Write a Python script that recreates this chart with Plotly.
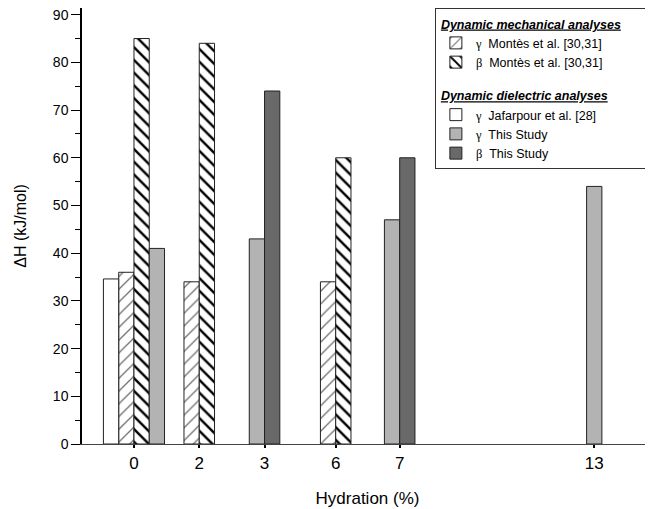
import plotly.graph_objects as go

# ---- data ----
hydration_labels = ["0", "2", "3", "6", "7", "13"]
jafarpour_gamma = [34.6, None, None, None, None, None]
montes_gamma = [36, 34, None, 34, None, None]
montes_beta = [85, 84, None, 60, None, None]
study_gamma = [41, None, 43, None, 47, 54]
study_beta = [None, None, 74, None, 60, None]

# ---- layout positions of categories on the x axis ----
cat_pos = [0, 1, 2, 3.09, 4.07, 7.05]
bar_w = 0.234

series_order = ["jg", "mg", "mb", "sg", "sb"]
series_vals = {
    "jg": jafarpour_gamma,
    "mg": montes_gamma,
    "mb": montes_beta,
    "sg": study_gamma,
    "sb": study_beta,
}

# compute centred offsets for present bars in each category
xs = {k: [] for k in series_order}
ys = {k: [] for k in series_order}
for ci, p in enumerate(cat_pos):
    present = [k for k in series_order if series_vals[k][ci] is not None]
    n = len(present)
    for i, k in enumerate(present):
        xs[k].append(p + (i - (n - 1) / 2) * bar_w)
        ys[k].append(series_vals[k][ci])

serif = "font-family:'Liberation Serif','DejaVu Serif',serif"
line = dict(color="#222222", width=1)
pad = "\u2003" * 3

fig = go.Figure()

fig.add_trace(go.Bar(
    x=xs["mg"], y=ys["mg"], width=bar_w,
    name=f"<span style=\"{serif}\">γ</span>  Montès et al. [30,31]",
    legendgroup="mech",
    legendgrouptitle=dict(text="<b><i><u>Dynamic mechanical analyses</u></i></b>" + pad,
                          font=dict(size=12.5, color="black")),
    marker=dict(color="white", line=line,
                pattern=dict(shape="/", fgcolor="#6e6e6e", bgcolor="white", fgopacity=1,
                             size=9, solidity=0.14, fillmode="overlay")),
))
fig.add_trace(go.Bar(
    x=xs["mb"], y=ys["mb"], width=bar_w,
    name=f"<span style=\"{serif}\">β</span>  Montès et al. [30,31]",
    legendgroup="mech",
    marker=dict(color="white", line=line,
                pattern=dict(shape="\\", fgcolor="black", bgcolor="white", fgopacity=1,
                             size=9, solidity=0.27, fillmode="overlay")),
))
fig.add_trace(go.Bar(
    x=xs["jg"], y=ys["jg"], width=bar_w,
    name=f"<span style=\"{serif}\">γ</span>  Jafarpour et al. [28]",
    legendgroup="diel",
    legendgrouptitle=dict(text="<b><i><u>Dynamic dielectric analyses</u></i></b>",
                          font=dict(size=12.5, color="black")),
    marker=dict(color="white", line=line),
))
fig.add_trace(go.Bar(
    x=xs["sg"], y=ys["sg"], width=bar_w,
    name=f"<span style=\"{serif}\">γ</span>  This Study",
    legendgroup="diel",
    marker=dict(color="#b3b3b3", line=line),
))
fig.add_trace(go.Bar(
    x=xs["sb"], y=ys["sb"], width=bar_w,
    name=f"<span style=\"{serif}\">β</span>  This Study",
    legendgroup="diel",
    marker=dict(color="#696969", line=line),
))

font_family = "Liberation Sans, Arial, sans-serif"
xr = [-0.796, 7.95]

fig.update_layout(
    width=645, height=501,
    margin=dict(l=74, r=0, t=0, b=65, autoexpand=False),
    paper_bgcolor="white", plot_bgcolor="white",
    barmode="overlay",
    font=dict(family=font_family, color="black", size=14),
    legend=dict(
        x=0.618, y=1.0, xanchor="left", yanchor="top",
        bordercolor="#333333", borderwidth=1, bgcolor="white",
        font=dict(size=12.5, color="black"),
        traceorder="grouped", tracegroupgap=14,
    ),
    xaxis=dict(
        range=xr, automargin=False,
        tickmode="array", tickvals=cat_pos, ticktext=hydration_labels,
        ticks="outside", ticklen=3, tickwidth=1.5, tickcolor="black",
        showline=True, linecolor="#444444", linewidth=1.2, mirror=True,
        showgrid=False, zeroline=False,
        tickfont=dict(size=17),
        title=dict(text="Hydration (%)", font=dict(size=17), standoff=20),
    ),
    xaxis2=dict(
        overlaying="x", anchor="y", range=xr, automargin=False,
        tickmode="array", tickvals=cat_pos, showticklabels=False,
        ticks="outside", ticklen=9, tickwidth=1.5, tickcolor="black",
        showline=False, showgrid=False, zeroline=False,
    ),
    xaxis3=dict(
        overlaying="x", anchor="y", range=xr, automargin=False,
        tickmode="array", tickvals=cat_pos, showticklabels=False,
        ticks="inside", ticklen=4, tickwidth=1.5, tickcolor="black",
        showline=False, showgrid=False, zeroline=False,
    ),
    yaxis=dict(
        range=[0, 91.4], dtick=10, tick0=0, automargin=False,
        ticklabeloverflow="allow",
        ticks="outside", ticklen=9, tickwidth=1.3, tickcolor="black",
        minor=dict(dtick=5, ticks="outside", ticklen=5, tickcolor="black", tickwidth=1.2),
        showline=True, linecolor="black", linewidth=1.5,
        showgrid=False, zeroline=False,
        tickfont=dict(size=14),
        title=dict(text="ΔH (kJ/mol)", font=dict(size=16), standoff=22),
    ),
)

fig.write_html("out.html")
